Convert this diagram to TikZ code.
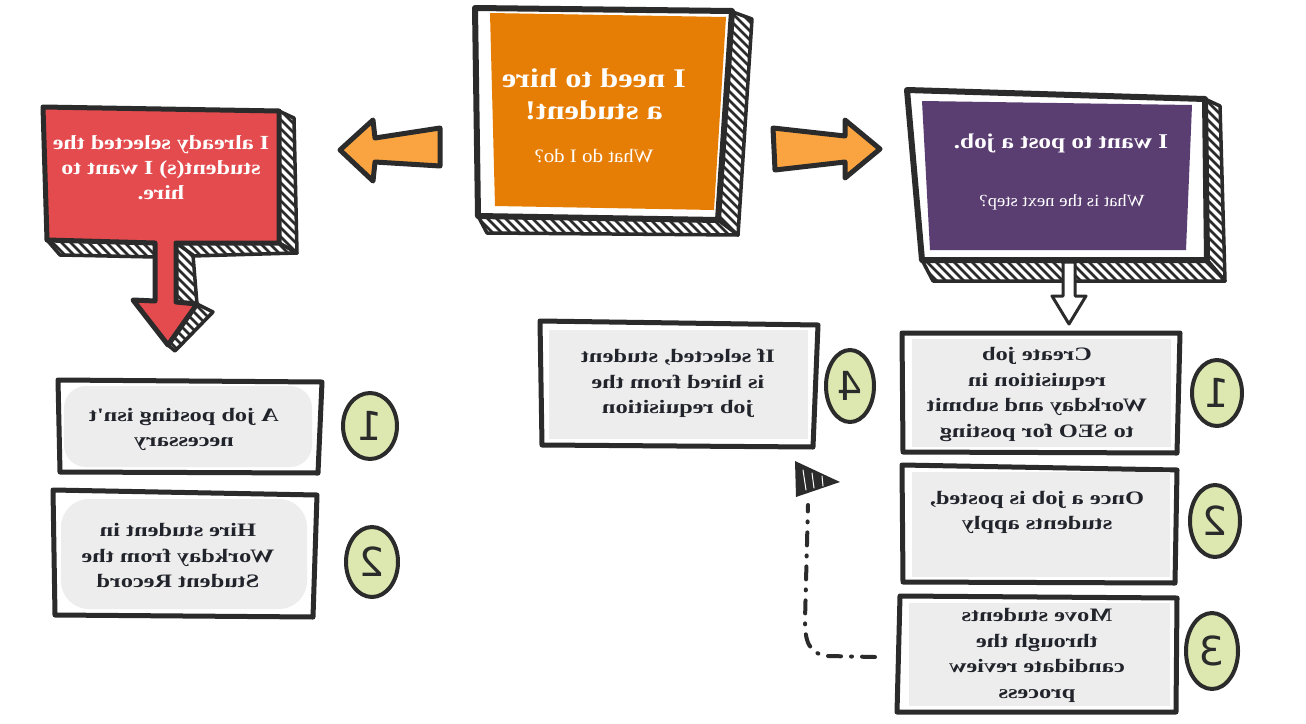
\documentclass[tikz,border=0pt]{standalone}
\usepackage{fontspec}
\setmainfont{Liberation Serif}
\newfontfamily\fgray{Liberation Serif}[FakeStretch=1.28]
\newfontfamily\ftitle{Liberation Serif}[FakeStretch=1.2]
\newfontfamily\fsub{Liberation Serif}[FakeStretch=1.1]
\newfontfamily\numfont{DejaVu Sans}
\definecolor{ink}{HTML}{2B2B2B}
\definecolor{orangebox}{HTML}{E67E05}
\definecolor{purplebox}{HTML}{5A3E72}
\definecolor{redbox}{HTML}{E44B4E}
\definecolor{grayfill}{HTML}{EDEDED}
\definecolor{greenc}{HTML}{DDE8B0}
\definecolor{arrowor}{HTML}{F9A441}
\definecolor{txt}{HTML}{22242C}
\newcommand\mtxt[1]{\reflectbox{\begin{tabular}{@{}c@{}}#1\end{tabular}}}
\newcommand\hatchshape[1]{%
  \fill[white] #1;
  \begin{scope}
    \clip #1;
    \foreach \k in {-730,-721,...,1300}{\draw[line width=2.8pt,ink] (\k,0) -- ++(740,740);}
  \end{scope}
  \draw[ink,line width=3.5pt,line join=round] #1;}
\begin{document}
\begin{tikzpicture}[x=1pt,y=-1pt,line join=round,line cap=round,
  frame/.style={draw=ink,line width=5pt,fill=white},
  title/.style={text=white,inner sep=0pt,font=\ftitle\bfseries\fontsize{27}{32}\selectfont},
  subtitle/.style={text=white,inner sep=0pt,font=\fsub\fontsize{19}{23}\selectfont},
  graytext/.style={text=txt,inner sep=0pt,font=\fgray\bfseries\fontsize{19}{25.5}\selectfont},
  numcircle/.style={draw=ink,line width=4pt,fill=greenc},
  numtxt/.style={text=ink,inner sep=0pt,font=\numfont\fontsize{40}{40}\selectfont},
  bigarrow/.style={draw=ink,line width=5pt,fill=arrowor},
  conn/.style={draw=ink,line width=4pt,dash pattern=on 13pt off 10pt on 1pt off 10pt}]
\useasboundingbox (0,0) rectangle (1306,723);

% ---------- orange box ----------
\hatchshape{(730,11) -- (752,19) -- (738,235) -- (718,220) -- cycle}
\hatchshape{(478,216) -- (718,220) -- (738,235) -- (487,233) -- cycle}
\draw[frame,line width=6pt] (475,8) -- (732,11) -- (718,220) -- (478,216) -- cycle;
\fill[orangebox] (490,13) -- (726,17) -- (714,210) -- (495,206) -- cycle;
\node[title] (orangeT) at (594,97) {\mtxt{I need to hire\\a student!}};
\node[subtitle] (orangeS) at (594,156) {\reflectbox{What do I do?}};

% ---------- purple box ----------
\hatchshape{(1205,99) -- (1220,106) -- (1225,281) -- (1207,260) -- cycle}
\hatchshape{(922,260) -- (1207,260) -- (1225,281) -- (933,281) -- cycle}
\draw[frame,line width=6pt] (907,90) -- (1205,99) -- (1207,260) -- (922,260) -- cycle;
\fill[purplebox] (922,101) -- (1192,105) -- (1186,250) -- (930,250) -- cycle;
\node[title,font=\ftitle\bfseries\fontsize{21}{26}\selectfont] (purpleT) at (1061,143) {\reflectbox{I want to post a job.}};
\node[subtitle,font=\fsub\fontsize{17}{20}\selectfont] (purpleS) at (1062,202) {\reflectbox{What is the next step?}};
% small down arrow
\draw[ink,line width=3pt,fill=white] (1063,262) -- (1063,296) -- (1052,296) -- (1069,324) -- (1086,296) -- (1075,296) -- (1075,262) -- cycle;

% ---------- red box ----------
\hatchshape{(279,111) -- (294,118) -- (297,253) -- (279,243) -- cycle}
\hatchshape{(47,240) -- (155,243) -- (155,257) -- (60,255) -- cycle}
\hatchshape{(176,243) -- (279,243) -- (297,253) -- (192,256) -- cycle}
\hatchshape{(176,243) -- (193,255) -- (197,304) -- (176,302) -- cycle}
\hatchshape{(197,304) -- (213,312) -- (175,351) -- (168,345) -- cycle}
\draw[draw=ink,line width=5pt,fill=redbox] (43,107) -- (279,111) -- (279,243) -- (176,243) -- (176,302) -- (197,304) -- (168,345) -- (133,300) -- (155,301) -- (155,243) -- (47,240) -- cycle;
\node[title,font=\ftitle\bfseries\fontsize{20}{25}\selectfont] (redT) at (161,169) {\mtxt{I already selected the\\student(s) I want to\\hire.}};

% ---------- orange arrows ----------
\draw[bigarrow] (340,150) -- (373,120) -- (375,138) -- (440,128) -- (440,166) -- (375,162) -- (373,181) -- cycle;
\draw[bigarrow] (773,128) -- (845,136) -- (845,120) -- (880,149) -- (845,178) -- (845,162) -- (775,170) -- cycle;

% ---------- right column gray boxes ----------
\draw[frame] (902,333) -- (1180,333) -- (1177,453) -- (903,452) -- cycle;
\fill[grayfill] (912,339) rectangle (1171,447);
\node[graytext] (t1) at (1037,394) {\mtxt{Create job\\requisition in\\Workday and submit\\to SEO for posting}};

\draw[frame] (902,465) -- (1177,470) -- (1175,583) -- (903,582) -- cycle;
\fill[grayfill] (912,472) rectangle (1170,577);
\node[graytext] (t2) at (1037,512) {\mtxt{Once a job is posted,\\students apply}};

\draw[frame] (900,596) -- (1177,598) -- (1176,712) -- (897,712) -- cycle;
\fill[grayfill] (909,603) rectangle (1170,706);
\node[graytext] (t3) at (1037,655) {\mtxt{Move students\\through the\\candidate review\\process}};

\draw[frame] (540,321) -- (818,325) -- (813,447) -- (542,445) -- cycle;
\fill[grayfill] (549,330) rectangle (808,439);
\node[graytext] (t4) at (678,383) {\mtxt{If selected, student\\is hired from the\\job requisition}};

% ---------- left column gray boxes ----------
\draw[frame] (58,380) -- (322,382) -- (318,473) -- (60,472) -- cycle;
\fill[grayfill,rounded corners=22pt] (64,386) rectangle (312,467);
\node[graytext] (tA) at (184,429) {\mtxt{A job posting isn't\\necessary}};

\draw[frame] (53,490) -- (317,495) -- (313,617) -- (55,615) -- cycle;
\fill[grayfill,rounded corners=28pt] (61,499) rectangle (307,609);
\node[graytext] (tB) at (178,557) {\mtxt{Hire student in\\Workday from the\\Student Record}};

% ---------- number circles ----------
\draw[numcircle] (1217,393) ellipse [x radius=25,y radius=33];
\node[numtxt] (n1) at (1217,393) {\reflectbox{1}};
\draw[numcircle] (1215,521) ellipse [x radius=25,y radius=36];
\node[numtxt] (n2) at (1215,521) {\reflectbox{2}};
\draw[numcircle] (1212,651) ellipse [x radius=26,y radius=38];
\node[numtxt] (n3) at (1212,651) {\reflectbox{3}};
\draw[numcircle] (850,386) ellipse [x radius=24,y radius=36];
\node[numtxt] (n4) at (850,386) {\reflectbox{4}};
\draw[numcircle] (370,426) ellipse [x radius=27,y radius=33];
\node[numtxt] (nA) at (370,426) {\reflectbox{1}};
\draw[numcircle] (372,562) ellipse [x radius=26,y radius=35];
\node[numtxt] (nB) at (372,562) {\reflectbox{2}};

% ---------- dashed connector from step 3 toward step 4 ----------
\coordinate (cs) at (875,657);
\coordinate (ce) at (808,505);
\draw[conn] (cs) -- (828,656) .. controls (808,654) and (805,640) .. (805,620) -- (ce);
\fill[ink] (795,461) -- (840,482) -- (796,497) -- cycle;
\draw[white,line width=1pt] (803,470) -- (806,490) (812,473) -- (814,488) (822,476) -- (823,486);

\end{tikzpicture}
\end{document}
